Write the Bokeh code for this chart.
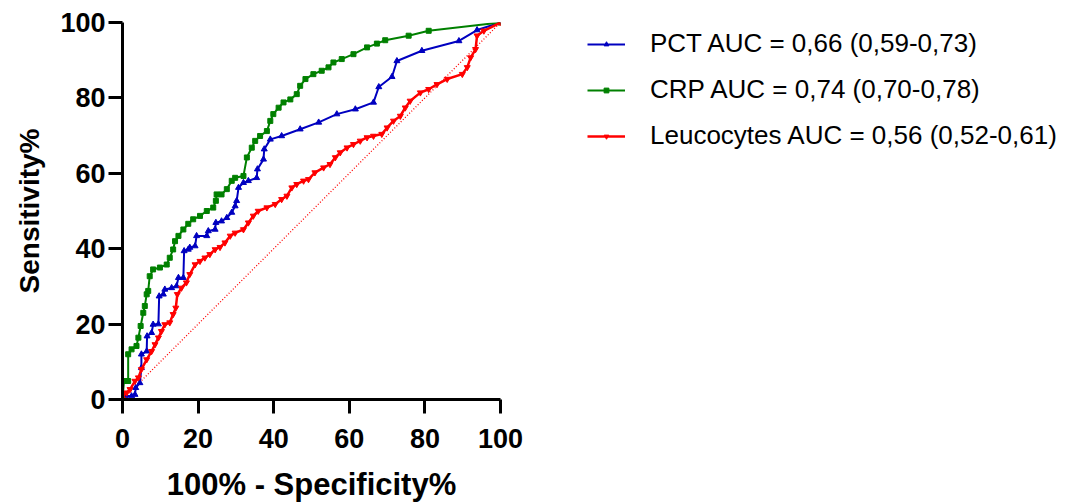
from bokeh.plotting import figure
from bokeh.models import Range1d, FixedTicker, Legend, LegendItem
from bokeh.embed import file_html
from bokeh.resources import INLINE

# 100% - Specificity% (x) and Sensitivity% (y)
pct_x = [0, 0.6, 2.4, 3.3, 3.5, 4.6, 5, 5, 6.4, 6.5, 7.7, 8.1, 9.5, 9.7, 10.8, 11.2, 13, 14.3,
         14.8, 16.1, 16.3, 17.4, 17.8, 19.2, 19.6, 22.3, 22.7, 24.5, 24.7, 26.2, 27.6, 28.9,
         29.8, 30.2, 30.7, 32, 33.3, 35.5, 35.7, 37.3, 37.5, 39.1, 42.1, 47, 51.9, 56.7, 61.6,
         66.4, 67.8, 71.3, 72.6, 79.2, 89, 93.8, 100]
pct_y = [0, 0.9, 0.9, 1.3, 3.1, 4.4, 8.4, 12, 12.8, 16.8, 17.7, 19.9, 20, 27.4, 27.9, 29.2, 29.6,
         30.1, 32.3, 32.3, 39.4, 39.8, 40.3, 40.7, 43.4, 43.4, 44.7, 45.1, 46.9, 47.3, 48.2, 49.6,
         51.3, 52.7, 56.2, 57.5, 58, 58.8, 61.1, 63.7, 66.4, 69, 69.9, 71.7, 73.5, 75.7, 77,
         78.8, 82.9, 85.6, 89.8, 92.5, 95.1, 98, 100]

crp_x = [0, 0.4, 1.5, 1.5, 2.4, 3.7, 4.2, 4.8, 5.5, 5.9, 6.4, 6.8, 7.2, 8.1, 9.9, 11.7, 12.5,
         13.4, 13.9, 14.8, 16.1, 17.4, 18.7, 20.5, 22.3, 24, 24.7, 24.9, 26.2, 27.6, 28.9, 29.8,
         32, 32.9, 34.2, 35.1, 36.4, 38.2, 39.1, 39.9, 41.3, 42.6, 44.4, 46.1, 47, 48.4, 50.5,
         52.7, 54.5, 55.8, 58, 61.1, 64.7, 67.3, 69.5, 75.7, 81, 100]
crp_y = [0, 4.9, 4.9, 12, 13.3, 14.2, 16.4, 19.5, 23, 24.8, 27.9, 28.8, 32.7, 34.5, 35, 35.8,
         37.6, 39.8, 42, 43.4, 45.1, 46.6, 47.8, 48.7, 50, 50.9, 52.7, 54.4, 54.4, 55.8, 58,
         58.8, 59.3, 64.2, 66.8, 68.6, 69.9, 71.2, 73.9, 75.7, 77.4, 78.8, 79.6, 81, 83.2, 85,
         86.3, 87.2, 88.1, 89.4, 90.3, 91.6, 93.4, 94.4, 95.3, 96.5, 97.8, 100]

leu_x = [0, 0.2, 1.1, 2, 3.3, 4.2, 5, 6.4, 7.7, 8.6, 9.5, 10.3, 11.2, 12.5, 13.4, 14.1, 14.5,
         15.6, 16.9, 17.8, 19.2, 20.5, 21.8, 23.1, 24.5, 25.8, 27.1, 28.5, 29.8, 32, 33.3, 34.6,
         35.9, 38.2, 40.4, 42.1, 43.5, 44.8, 46.1, 47.9, 49.2, 50.9, 53.2, 54.9, 56.3, 57.6,
         59.4, 61.1, 62.9, 64.7, 66.4, 68.6, 70, 71.7, 73.5, 74.8, 76.1, 78.8, 81, 83.2, 85.9,
         89.9, 91.2, 92.1, 93.4, 93.8, 95.6, 100]
leu_y = [0, 1.3, 1.8, 2.7, 4.9, 5.8, 8, 10.6, 12.8, 14.6, 16.4, 18.1, 19.9, 20.4, 22.6, 24.3,
         27.9, 29.6, 31, 33.2, 35.8, 36.7, 37.6, 38.5, 39.8, 40.4, 41.6, 43.4, 44.2, 45.1, 46.9,
         48.7, 50, 50.9, 51.8, 53.1, 54, 56.2, 57.1, 58, 58.4, 60.2, 61.5, 62.4, 64.2, 65.5,
         66.8, 67.7, 68.6, 69.5, 69.9, 70.4, 72.1, 73.9, 75.2, 77.4, 79.2, 81.4, 82.3, 83.6,
         85, 86.3, 88.1, 90.7, 92.9, 96.5, 97.8, 100]

ref_x = [0, 100]
ref_y = [0, 100]

labels = ["PCT AUC = 0,66 (0,59-0,73)",
          "CRP AUC = 0,74 (0,70-0,78)",
          "Leucocytes AUC = 0,56 (0,52-0,61)"]
ticks = [0, 20, 40, 60, 80, 100]

FONT = "Liberation Sans"

p = figure(output_backend="svg", toolbar_location=None,
           frame_width=378, frame_height=377,
           min_border_left=122, min_border_top=22, min_border_bottom=100,
           min_border_right=0,
           x_range=Range1d(0, 100), y_range=Range1d(0, 100))
p.outline_line_color = None
p.grid.visible = False
p.background_fill_color = "white"
p.border_fill_color = "white"

for ax in (p.xaxis[0], p.yaxis[0]):
    ax.ticker = FixedTicker(ticks=ticks)
    ax.axis_line_width = 3
    ax.axis_line_color = "black"
    ax.major_tick_line_width = 3
    ax.major_tick_line_color = "black"
    ax.major_tick_out = 14
    ax.major_tick_in = 0
    ax.minor_tick_line_color = None
    ax.major_label_text_font = FONT
    ax.major_label_text_font_style = "bold"
    ax.major_label_text_font_size = "27px"
    ax.major_label_text_color = "black"
    ax.axis_label_text_font = FONT
    ax.axis_label_text_font_style = "bold"
    ax.axis_label_text_color = "black"

p.xaxis.axis_label = "100% - Specificity%"
p.yaxis.axis_label = "Sensitivity%"
p.xaxis.axis_label_text_font_size = "31px"
p.yaxis.axis_label_text_font_size = "28px"
p.xaxis.major_label_standoff = 15
p.yaxis.major_label_standoff = 3
p.xaxis.axis_label_standoff = 16
p.yaxis.axis_label_standoff = 12

p.line(ref_x, ref_y, line_color="red", line_width=1.3, line_dash="1 2")

pl = p.line(pct_x, pct_y, line_color="#0000c0", line_width=2)
pm = p.scatter(pct_x, pct_y, marker="triangle", size=6, color="#0000c0")
cl = p.line(crp_x, crp_y, line_color="#008000", line_width=2)
cm = p.scatter(crp_x, crp_y, marker="square", size=5, color="#008000")
ll = p.line(leu_x, leu_y, line_color="red", line_width=2.5)
lm = p.scatter(leu_x, leu_y, marker="inverted_triangle", size=6, color="red")

legend = Legend(items=[LegendItem(label=labels[0], renderers=[pl, pm]),
                       LegendItem(label=labels[1], renderers=[cl, cm]),
                       LegendItem(label=labels[2], renderers=[ll, lm])],
                location=(87, 248))
legend.padding = 0
legend.margin = 44
legend.spacing = 15
legend.glyph_width = 38
legend.glyph_height = 12
legend.label_height = 29
legend.label_standoff = 25
legend.label_text_font = FONT
legend.label_text_font_size = "26px"
legend.label_text_color = "black"
legend.border_line_color = None
legend.background_fill_alpha = 0
p.add_layout(legend, "right")

open("out.html", "w").write(file_html(p, INLINE))
